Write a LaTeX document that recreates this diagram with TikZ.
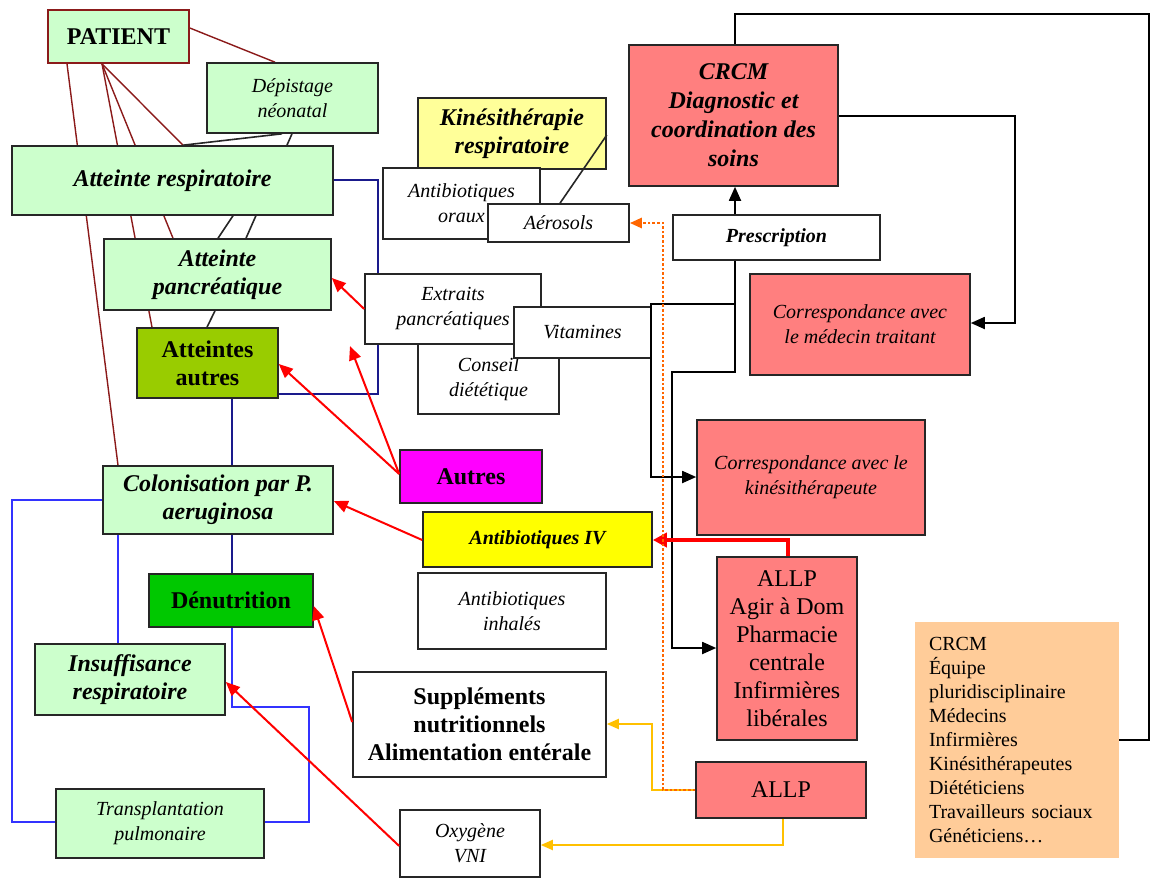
\documentclass[tikz,border=0pt]{standalone}
\usepackage{fontspec}
\setmainfont{Liberation Serif}
\usetikzlibrary{arrows.meta}

\definecolor{cLGreen}{HTML}{CCFFCC}
\definecolor{cOlive}{HTML}{99CC00}
\definecolor{cDGreen}{HTML}{00C800}
\definecolor{cLYellow}{HTML}{FFFF99}
\definecolor{cYellow}{HTML}{FFFF00}
\definecolor{cMagenta}{HTML}{FF00FF}
\definecolor{cRed}{HTML}{FF0000}
\definecolor{cSalmon}{HTML}{FF7F7F}
\definecolor{cPeach}{HTML}{FFCC99}
\definecolor{cMaroon}{HTML}{8B1A1A}
\definecolor{cNavy}{HTML}{1A1A8C}
\definecolor{cBlue}{HTML}{3333FF}
\definecolor{cGold}{HTML}{FFC000}
\definecolor{cOrange}{HTML}{FF6600}
\definecolor{cEdge}{HTML}{262626}

\pgfdeclarelayer{bgfill}
\pgfdeclarelayer{background}
\pgfsetlayers{bgfill,background,main}

% box from corner (x1,y1) to corner (x2,y2), in pixel units
\newcommand\placebox[7]{%
  \pgfmathsetmacro\pbw{(#4-#2)/2}%
  \pgfmathsetmacro\pbh{(#5-#3)/2}%
  \node[#6, minimum width=\pbw pt, minimum height=\pbh pt] (#1) at ({(#2+#4)/2},{(#3+#5)/2}) {#7};%
}

\tikzset{
  box/.style={draw=cEdge, line width=0.8pt, align=center, inner sep=1pt},
  greenbox/.style={box, fill=cLGreen},
  whitebox/.style={box, fill=white},
  salmonbox/.style={box, fill=cSalmon},
  fbi/.style={font=\fontsize{12}{14}\selectfont\bfseries\itshape},
  fbis/.style={font=\fontsize{10}{12}\selectfont\bfseries\itshape},
  fit/.style={font=\fontsize{10}{12.5}\selectfont\itshape},
  fb/.style={font=\fontsize{12}{14}\selectfont\bfseries},
  fr/.style={font=\fontsize{12}{14}\selectfont},
  tip/.style={-{Triangle[length=7pt,width=6pt]}},
  smalltip/.style={-{Triangle[length=6pt,width=5pt]}},
  redarrow/.style={tip, draw=cRed, line width=1pt},
  blackarrow/.style={tip, draw=black, line width=0.9pt},
  blackline/.style={draw=black, line width=0.9pt},
  maroonline/.style={draw=cMaroon, line width=0.7pt},
  linkline/.style={draw=cEdge, line width=0.8pt},
  navyline/.style={draw=cNavy, line width=0.8pt},
  blueline/.style={draw=cBlue, line width=0.8pt},
  goldarrow/.style={smalltip, draw=cGold, line width=1pt},
  orangearrow/.style={smalltip, draw=cOrange, line width=1.3pt, dash pattern=on 1.3pt off 1pt},
}

\begin{document}
\begin{tikzpicture}[x=0.5pt, y=-0.5pt]
\useasboundingbox (0,0) rectangle (1152,879);
\begin{pgfonlayer}{bgfill}
  \fill[white] (0,0) rectangle (1152,879);
\end{pgfonlayer}

% left column: patient and affected systems
\placebox{pat}{48}{10}{189}{63}{box, fill=cLGreen, draw=cMaroon, fb}{PATIENT}
\placebox{dep}{207}{63}{378}{133}{greenbox, fit}{Dépistage\\néonatal}
\placebox{resp}{12}{146}{333}{215}{greenbox, fbi}{Atteinte respiratoire}
\placebox{pancr}{104}{239}{331}{310}{greenbox, fbi}{Atteinte\\pancréatique}
\placebox{atau}{137}{328}{278}{398}{box, fill=cOlive, fb}{Atteintes\\autres}
\placebox{colon}{103}{466}{333}{534}{greenbox, fbi}{Colonisation par P.\\aeruginosa}
\placebox{denut}{149}{574}{313}{627}{box, fill=cDGreen, fb}{Dénutrition}
\placebox{insuf}{35}{644}{225}{715}{greenbox, fbi}{Insuffisance\\respiratoire}
\placebox{transp}{56}{789}{264}{858}{greenbox, fit}{Transplantation\\pulmonaire}

% middle column: treatments
\placebox{kine}{418}{98}{606}{169}{box, fill=cLYellow, fbi}{Kinésithérapie\\respiratoire}
\placebox{abor}{383}{168}{540}{239}{whitebox, fit}{Antibiotiques\\oraux}
\placebox{aer}{488}{204}{629}{242}{whitebox, fit}{Aérosols}
\placebox{cons}{418}{344}{559}{414}{whitebox, fit}{Conseil\\diététique}
\placebox{ext}{365}{274}{541}{344}{whitebox, fit}{Extraits\\pancréatiques}
\placebox{vit}{514}{307}{651}{358}{whitebox, fit}{Vitamines}
\placebox{autm}{400}{450}{542}{503}{box, fill=cMagenta, fb}{Autres}
\placebox{abiv}{423}{512}{652}{567}{box, fill=cYellow, fbis}{Antibiotiques IV}
\placebox{abinh}{418}{573}{606}{649}{whitebox, fit}{Antibiotiques\\inhalés}
\placebox{supp}{353}{672}{606}{777}{whitebox, fb}{Suppléments\\nutritionnels\\Alimentation entérale}
\placebox{oxy}{400}{810}{540}{877}{whitebox, fit}{Oxygène\\VNI}

% right column: care network
\placebox{crcm}{629}{45}{838}{186}{salmonbox, fbi, font=\fontsize{12}{14.5}\selectfont\bfseries\itshape}{CRCM\\Diagnostic et\\coordination des\\soins}
\placebox{presc}{673}{215}{880}{260}{whitebox, fbis}{Prescription}
\placebox{med}{750}{274}{970}{375}{salmonbox, fit}{Correspondance avec\\le médecin traitant}
\placebox{ckine}{697}{420}{925}{535}{salmonbox, fit}{Correspondance avec le\\kinésithérapeute}
\placebox{allp}{717}{557}{857}{740}{salmonbox, fr}{ALLP\\Agir à Dom\\Pharmacie\\centrale\\Infirmières\\libérales}
\placebox{allpb}{696}{762}{866}{818}{salmonbox, fr}{ALLP}
\placebox{legend}{915}{622}{1119}{858}{fill=cPeach, align=left, text width=88pt, font=\fontsize{10}{12}\selectfont}{CRCM\\Équipe\\pluridisciplinaire\\Médecins\\Infirmières\\Kinésithérapeutes\\Diététiciens\\Travailleurs sociaux\\Généticiens…}

\coordinate (autresTip) at (350,346);

% links running behind the boxes
\begin{pgfonlayer}{background}
  \draw[maroonline] (pat.east |- 0,28) -- (dep.north -| 275,0);
  \draw[maroonline] (pat.south -| 67,0) -- (colon.north -| 118,0);
  \draw[maroonline] (pat.south -| 102,0) -- (atau.north -| 152,0);
  \draw[maroonline] (pat.south -| 102,0) -- (pancr.north -| 173,0);
  \draw[maroonline] (pat.south -| 102,0) -- (resp.north -| 183,0);

  \draw[linkline] (dep.south -| 282,0) -- (resp.north -| 183,0);
  \draw[linkline] (dep.south -| 292,0) -- (pancr.north -| 246,0);
  \draw[linkline] (resp.south -| 233,0) -- (pancr.north -| 218,0);
  \draw[linkline] (pancr.south -| 215,0) -- (atau.north -| 207,0);

  \draw[navyline] (resp.east |- 0,180) -- (378,180) -- (378,394) -- (atau.east |- 0,394);
  \draw[navyline] (atau.south -| 232,0) -- (colon.north -| 232,0);
  \draw[navyline] (colon.south -| 232,0) -- (denut.north -| 232,0);

  \draw[blueline] (denut.south -| 232,0) -- (232,707) -- (309,707) -- (309,822) -- (transp.east |- 0,822);
  \draw[blueline] (colon.west |- 0,500) -- (12,500) -- (12,822) -- (transp.west |- 0,822);
  \draw[blueline] (colon.south -| 118,0) -- (insuf.north -| 118,0);
\end{pgfonlayer}

\draw[linkline] (kine.east |- 0,135) -- (aer.north -| 560,0);

% coordination links
\draw[blackline] (crcm.north -| 735,0) -- (735,14) -- (1149,14) -- (1149,740) -- (legend.east |- 0,740);
\draw[blackarrow] (crcm.east |- 0,116) -- (1015,116) -- (1015,323) -- (med.east |- 0,323);
\draw[blackarrow] (presc.north -| 735,0) -- (crcm.south -| 735,0);
\draw[blackarrow] (presc.south -| 735,0) -- (735,304) -- (651,304) -- (651,477) -- (ckine.west |- 0,477);
\draw[blackarrow] (presc.south -| 735,0) -- (735,372) -- (672,372) -- (672,648) -- (allp.west |- 0,648);

% treatments acting on the affected systems
\draw[redarrow] (ext.west |- 0,309) -- (pancr.east |- 0,278);
\draw[redarrow] (autm.west |- 0,474) -- (atau.east |- 0,364);
\draw[redarrow] (autm.west |- 0,474) -- (autresTip);
\draw[redarrow] (abiv.west |- 0,540) -- (colon.east |- 0,501);
\draw[redarrow] (supp.west |- 0,722) -- (denut.east |- 0,606);
\draw[redarrow] (oxy.west |- 0,846) -- (insuf.east |- 0,682);
\draw[redarrow, line width=2pt, -{Triangle[length=7pt,width=7pt]}] (allp.north -| 788,0) -- (788,540) -- (abiv.east |- 0,540);

% home-care supplies
\draw[goldarrow] (allpb.west |- 0,790) -- (652,790) -- (652,724) -- (supp.east |- 0,724);
\draw[goldarrow] (allpb.south -| 783,0) -- (783,845) -- (oxy.east |- 0,845);
\draw[orangearrow] (allpb.west |- 0,790) -- (663,790) -- (663,223) -- (aer.east |- 0,223);
\end{tikzpicture}
\end{document}
